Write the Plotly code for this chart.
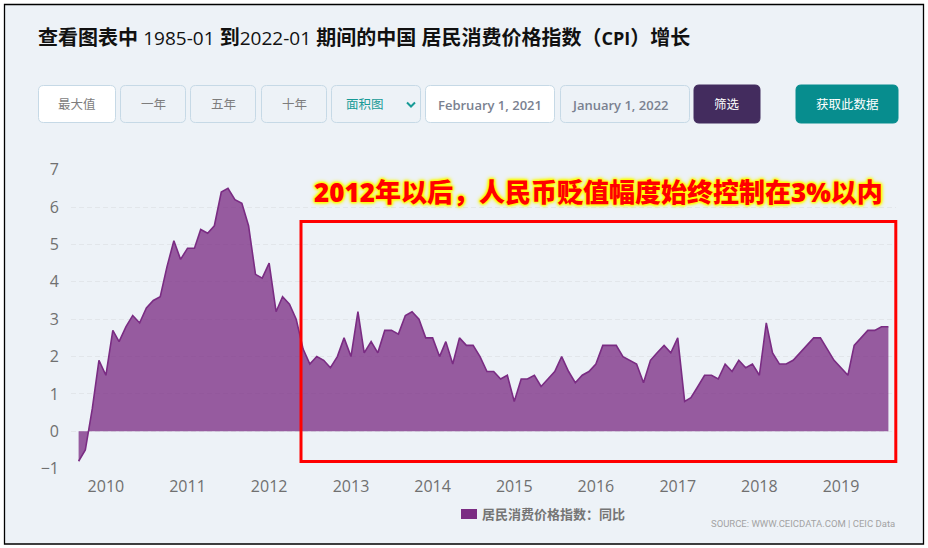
import pandas as pd
import plotly.graph_objects as go

W = 928
H = 548

# 同比 CPI, monthly, Sep 2009 to Aug 2019
cpi_start = "2009-09-01"
cpi_values = [
    -0.8, -0.5, 0.6, 1.9,
    1.5, 2.7, 2.4, 2.8, 3.1, 2.9, 3.3, 3.5, 3.6, 4.4, 5.1, 4.6,
    4.9, 4.9, 5.4, 5.3, 5.5, 6.4, 6.5, 6.2, 6.1, 5.5, 4.2, 4.1,
    4.5, 3.2, 3.6, 3.4, 3.0, 2.2, 1.8, 2.0, 1.9, 1.7, 2.0, 2.5,
    2.0, 3.2, 2.1, 2.4, 2.1, 2.7, 2.7, 2.6, 3.1, 3.2, 3.0, 2.5,
    2.5, 2.0, 2.4, 1.8, 2.5, 2.3, 2.3, 2.0, 1.6, 1.6, 1.4, 1.5,
    0.8, 1.4, 1.4, 1.5, 1.2, 1.4, 1.6, 2.0, 1.6, 1.3, 1.5, 1.6,
    1.8, 2.3, 2.3, 2.3, 2.0, 1.9, 1.8, 1.3, 1.9, 2.1, 2.3, 2.1,
    2.5, 0.8, 0.9, 1.2, 1.5, 1.5, 1.4, 1.8, 1.6, 1.9, 1.7, 1.8,
    1.5, 2.9, 2.1, 1.8, 1.8, 1.9, 2.1, 2.3, 2.5, 2.5, 2.2, 1.9,
    1.7, 1.5, 2.3, 2.5, 2.7, 2.7, 2.8, 2.8,
]
months = pd.date_range(cpi_start, periods=len(cpi_values), freq="MS")

year_labels = ["2010", "2011", "2012", "2013", "2014", "2015", "2016", "2017", "2018", "2019"]
year_ticks = [y + "-01-01" for y in year_labels]
y_ticks = [-1, 0, 1, 2, 3, 4, 5, 6, 7]

series_name = "居民消费价格指数：同比"
# latin runs are a little smaller than the bold CJK around them
title_text = ('<b>查看图表中</b> <span style="font-size:19px">1985-01</span> <b>到</b>'
              '<span style="font-size:19px">2022-01</span> '
              '<b>期间的中国 居民消费价格指数（</b><span style="font-size:18px"><b>CPI</b></span><b>）增长</b>')
callout_text = "2012年以后，人民币贬值幅度始终控制在3%以内"
source_text = "SOURCE: WWW.CEICDATA.COM | CEIC Data"

FONT = "Open Sans, Noto Sans CJK SC, sans-serif"
BORDER = "#c6d9e6"
PANEL = "#edf2f7"


def px(x):
    return x / W


def py(y):
    return 1 - y / H


def rounded(x0, y0, x1, y1, fill, line=None, r=5):
    # rounded rectangle given in page pixels
    path = (f"M{px(x0 + r)},{py(y0)} L{px(x1 - r)},{py(y0)} Q{px(x1)},{py(y0)} {px(x1)},{py(y0 + r)} "
            f"L{px(x1)},{py(y1 - r)} Q{px(x1)},{py(y1)} {px(x1 - r)},{py(y1)} "
            f"L{px(x0 + r)},{py(y1)} Q{px(x0)},{py(y1)} {px(x0)},{py(y1 - r)} "
            f"L{px(x0)},{py(y0 + r)} Q{px(x0)},{py(y0)} {px(x0 + r)},{py(y0)} Z")
    return dict(type="path", xref="paper", yref="paper", path=path, fillcolor=fill,
                line=dict(color=line or fill, width=1), layer="below")


def label(x, y, text, size=13, color="#7d7d7d", anchor="center", family=FONT, **font):
    return dict(xref="paper", yref="paper", x=px(x), y=py(y), text=text, showarrow=False,
                xanchor=anchor, yanchor="middle", align="left", borderpad=0,
                font=dict(family=family, size=size, color=color, **font))


shapes = [
    dict(type="rect", xref="paper", yref="paper", x0=px(4.5), x1=px(923.5), y0=py(4.5), y1=py(544),
         fillcolor=PANEL, line=dict(color="#000000", width=1.3), layer="below"),
    rounded(38.5, 85.5, 115.5, 122.5, "#ffffff", BORDER),
    rounded(120.5, 85.5, 185.5, 122.5, PANEL, BORDER),
    rounded(190.5, 85.5, 255.5, 122.5, PANEL, BORDER),
    rounded(261.5, 85.5, 326.5, 122.5, PANEL, BORDER),
    rounded(331.5, 85.5, 420.5, 122.5, PANEL, BORDER),
    rounded(425.5, 85.5, 554.5, 122.5, "#ffffff", BORDER),
    rounded(560.5, 85.5, 689.5, 122.5, PANEL, BORDER),
    rounded(694, 85, 760, 123, "#432c5e"),
    rounded(796, 85, 898, 123, "#078d8e"),
    # dropdown chevron
    dict(type="path", xref="paper", yref="paper",
         path=f"M{px(407)},{py(102.5)} L{px(411)},{py(106.5)} L{px(415)},{py(102.5)}",
         line=dict(color="#179a96", width=2), layer="above"),
    # red callout box
    dict(type="rect", xref="paper", yref="paper", x0=px(301), x1=px(895.8), y0=py(221.5), y1=py(461.5),
         line=dict(color="#ff0000", width=3), layer="above"),
    # legend swatch
    dict(type="rect", xref="paper", yref="paper", x0=px(461), x1=px(477), y0=py(509), y1=py(519),
         fillcolor="#7b2c83", line=dict(width=0), layer="above"),
]

annotations = [
    label(36.8, 37, title_text, size=20, color="#111111", anchor="left"),
    label(76.5, 105, "最大值", size=12.5),
    label(153, 105, "一年", size=12.5),
    label(223, 105, "五年", size=12.5),
    label(294, 105, "十年", size=12.5),
    label(345, 104, "面积图", size=12.5, color="#179a96", anchor="left"),
    label(437, 104.5, "February 1, 2021", color="#7a8190", anchor="left", weight=600),
    label(571, 104.5, "January 1, 2022", color="#7a8190", anchor="left", weight=600),
    label(727, 105, "筛选", size=12.5, color="#ffffff"),
    label(847, 105, "获取此数据", size=12.5, color="#ffffff"),
    label(598, 192, callout_text, size=26, color="#ff0000", weight=900,
          shadow="0 0 2px #ffff00, 0 0 2px #ffff00, 0 0 3px #ffff00, 0 0 3px #ffff00, "
                 "0 0 4px #ffff00, 0 0 5px #ffff00"),
    label(481, 514, series_name, size=13, color="#757575", anchor="left", weight="bold"),
    label(896, 523, source_text, size=9.5, color="#a3a3a3", anchor="right",
          family="Roboto, sans-serif"),
]

fig = go.Figure()
fig.add_trace(go.Scatter(
    x=months, y=cpi_values, mode="lines", name=series_name, fill="tozeroy",
    fillcolor="rgba(122,44,131,0.76)", line=dict(color="#7a2c83", width=1.6),
    hovertemplate="%{x|%Y-%m}: %{y}<extra></extra>",
))

fig.update_layout(
    width=W, height=H, autosize=False,
    margin=dict(l=0, r=0, t=0, b=0),
    paper_bgcolor="#ffffff", plot_bgcolor="rgba(0,0,0,0)",
    showlegend=False,
    shapes=shapes, annotations=annotations,
    font=dict(family=FONT),
)
fig.update_xaxes(
    type="date", domain=[px(71), px(896)], range=["2009-07-29", "2019-09-04"],
    tickvals=year_ticks, ticktext=year_labels, tickangle=0, showgrid=False, zeroline=False,
    showline=False, ticks="", ticklabelstandoff=6, automargin=False,
    tickfont=dict(family=FONT, size=16, color="#707070"),
)
fig.update_yaxes(
    domain=[py(468.7), py(169.7)], range=[-1, 7], tickvals=y_ticks,
    showgrid=True, gridcolor="#e2e6ea", griddash="5px,3px", gridwidth=1.4,
    zeroline=False, showline=False, ticks="", ticklabelstandoff=11, automargin=False,
    tickfont=dict(family=FONT, size=16, color="#707070"),
)

fig.write_html("out.html", config={"displayModeBar": False},
               post_script="document.body.style.margin = '0';")
